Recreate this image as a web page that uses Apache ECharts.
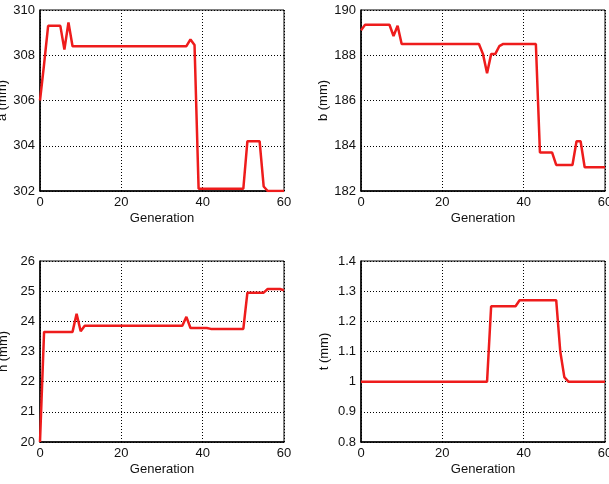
<!DOCTYPE html>
<html>
<head>
<meta charset="utf-8">
<script src="https://cdn.jsdelivr.net/npm/echarts@6/dist/echarts.min.js"></script>
<style>
  html, body { margin: 0; padding: 0; background: #fff; }
  #chart { width: 609px; height: 484px; }
</style>
</head>
<body>
<div id="chart"></div>
<script>
// generations 0..60, one value per generation
const generations = Array.from({ length: 61 }, (_, i) => i)

const aValues = [
  306.0, 307.6, 309.3, 309.3, 309.3, 309.3, 308.25, 309.45, 308.4, 308.4,
  308.4, 308.4, 308.4, 308.4, 308.4, 308.4, 308.4, 308.4, 308.4, 308.4,
  308.4, 308.4, 308.4, 308.4, 308.4, 308.4, 308.4, 308.4, 308.4, 308.4,
  308.4, 308.4, 308.4, 308.4, 308.4, 308.4, 308.4, 308.7, 308.45, 302.1,
  302.1, 302.1, 302.1, 302.1, 302.1, 302.1, 302.1, 302.1, 302.1, 302.1,
  302.1, 304.2, 304.2, 304.2, 304.2, 302.2, 302.0, 302.0, 302.0, 302.0,
  302.0
]

const bValues = [
  189.1, 189.35, 189.35, 189.35, 189.35, 189.35, 189.35, 189.35, 188.85, 189.3,
  188.5, 188.5, 188.5, 188.5, 188.5, 188.5, 188.5, 188.5, 188.5, 188.5,
  188.5, 188.5, 188.5, 188.5, 188.5, 188.5, 188.5, 188.5, 188.5, 188.5,
  188.05, 187.2, 188.05, 188.05, 188.4, 188.5, 188.5, 188.5, 188.5, 188.5,
  188.5, 188.5, 188.5, 188.5, 183.7, 183.7, 183.7, 183.7, 183.15, 183.15,
  183.15, 183.15, 183.15, 184.2, 184.2, 183.05, 183.05, 183.05, 183.05, 183.05,
  183.05
]

const hValues = [
  20.0, 23.65, 23.65, 23.65, 23.65, 23.65, 23.65, 23.65, 23.65, 24.25,
  23.67, 23.85, 23.85, 23.85, 23.85, 23.85, 23.85, 23.85, 23.85, 23.85,
  23.85, 23.85, 23.85, 23.85, 23.85, 23.85, 23.85, 23.85, 23.85, 23.85,
  23.85, 23.85, 23.85, 23.85, 23.85, 23.85, 24.15, 23.78, 23.78, 23.78,
  23.78, 23.78, 23.75, 23.75, 23.75, 23.75, 23.75, 23.75, 23.75, 23.75,
  23.75, 24.95, 24.95, 24.95, 24.95, 24.95, 25.07, 25.07, 25.07, 25.07,
  25.03
]

const tValues = [
  1.0, 1.0, 1.0, 1.0, 1.0, 1.0, 1.0, 1.0, 1.0, 1.0,
  1.0, 1.0, 1.0, 1.0, 1.0, 1.0, 1.0, 1.0, 1.0, 1.0,
  1.0, 1.0, 1.0, 1.0, 1.0, 1.0, 1.0, 1.0, 1.0, 1.0,
  1.0, 1.0, 1.25, 1.25, 1.25, 1.25, 1.25, 1.25, 1.25, 1.27,
  1.27, 1.27, 1.27, 1.27, 1.27, 1.27, 1.27, 1.27, 1.27, 1.10,
  1.015, 1.0, 1.0, 1.0, 1.0, 1.0, 1.0, 1.0, 1.0, 1.0,
  1.0
]

const panels = [
  { name: 'a (mm)', values: aValues, min: 302, max: 310, interval: 2 },
  { name: 'b (mm)', values: bValues, min: 182, max: 190, interval: 2 },
  { name: 'h (mm)', values: hValues, min: 20, max: 26, interval: 1 },
  { name: 't (mm)', values: tValues, min: 0.8, max: 1.4, interval: 0.1 }
]

const gridPos = [
  { left: 40, top: 10 },
  { left: 361, top: 10 },
  { left: 40, top: 261 },
  { left: 361, top: 261 }
]

const font = 'Liberation Sans, Arial, sans-serif'
const dotted = { color: '#000', width: 1, type: [1, 2] }

const chart = echarts.init(document.getElementById('chart'))

const option = {
  animation: false,
  grid: gridPos.map((p) => ({
    left: p.left,
    top: p.top,
    width: 244,
    height: 181,
    outerBoundsMode: 'none',
    containLabel: false,
    show: true,
    borderColor: '#000',
    borderWidth: 1,
    backgroundColor: '#fff'
  })),
  xAxis: panels.map((p, i) => ({
    type: 'value',
    gridIndex: i,
    min: 0,
    max: 60,
    interval: 20,
    name: 'Generation',
    nameLocation: 'middle',
    nameGap: 21,
    nameTextStyle: { fontFamily: font, fontSize: 13, color: '#111' },
    axisLine: { show: true, lineStyle: { color: '#000', width: 1.5 } },
    axisTick: { show: false },
    axisLabel: { fontFamily: font, fontSize: 13, color: '#111', margin: 5 },
    splitLine: { show: true, lineStyle: dotted }
  })),
  yAxis: panels.map((p, i) => ({
    type: 'value',
    gridIndex: i,
    min: p.min,
    max: p.max,
    interval: p.interval,
    name: p.name,
    nameLocation: 'middle',
    nameGap: 30,
    nameTextStyle: { fontFamily: font, fontSize: 13, color: '#111' },
    axisLine: { show: true, lineStyle: { color: '#000', width: 1.5 } },
    axisTick: { show: false },
    axisLabel: {
      fontFamily: font,
      fontSize: 13,
      color: '#111',
      margin: 5,
      formatter: (v) => (p.interval < 1 ? String(Math.round(v * 10) / 10) : String(v))
    },
    splitLine: { show: true, lineStyle: dotted }
  })),
  series: panels.map((p, i) => ({
    type: 'line',
    xAxisIndex: i,
    yAxisIndex: i,
    data: generations.map((g) => [g, p.values[g]]),
    showSymbol: false,
    lineStyle: { color: '#ee1c1c', width: 2.5 },
    z: 5
  }))
}

chart.setOption(option)
</script>
</body>
</html>
